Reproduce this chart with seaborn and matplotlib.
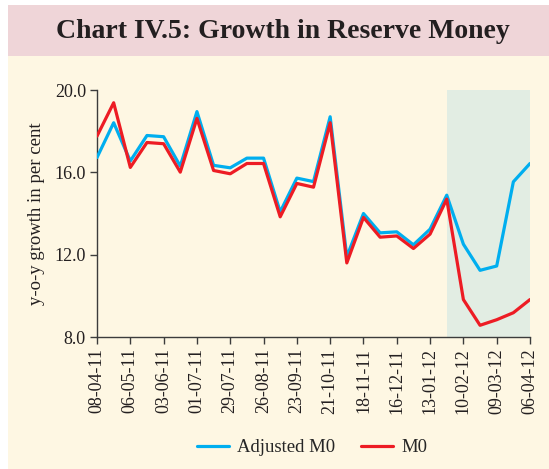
import pandas as pd
import numpy as np
import matplotlib.pyplot as plt
import seaborn as sns
from matplotlib.patches import Rectangle

# Fortnightly dates, 08-04-11 to 06-04-12
dates = pd.date_range("2011-04-08", "2012-04-06", freq="14D")
adjusted_m0 = [16.72, 18.41, 16.55, 17.79, 17.73, 16.30, 18.95, 16.34, 16.22, 16.69,
               16.69, 14.08, 15.72, 15.55, 18.70, 11.90, 14.00, 13.06, 13.11, 12.48,
               13.24, 14.89, 12.51, 11.24, 11.45, 15.54, 16.43]
m0 = [17.76, 19.38, 16.24, 17.45, 17.39, 16.01, 18.62, 16.09, 15.93, 16.43,
      16.43, 13.84, 15.46, 15.28, 18.41, 11.60, 13.81, 12.85, 12.91, 12.30,
      13.00, 14.70, 9.82, 8.57, 8.84, 9.18, 9.82]

df = pd.DataFrame({"date": dates, "Adjusted M0": adjusted_m0, "M0": m0})
df["pos"] = range(len(df))
long = df.melt(id_vars=["date", "pos"], value_vars=["Adjusted M0", "M0"],
               var_name="series", value_name="growth")

sns.set_style("ticks")
plt.rcParams["font.family"] = ["Liberation Serif", "DejaVu Serif"]

fig = plt.figure(figsize=(5.49, 4.69), dpi=100, facecolor="white")
# background panels
fig.patches.append(Rectangle((8 / 549, 0), 1, 413 / 469, transform=fig.transFigure,
                             facecolor="#FEF7E3", edgecolor="none", zorder=-2))
fig.patches.append(Rectangle((8 / 549, 413 / 469), 1, 51 / 469, transform=fig.transFigure,
                             facecolor="#EFD5D8", edgecolor="none", zorder=-2))
fig.text(0.516, 0.932, "Chart IV.5: Growth in Reserve Money", ha="center", va="center",
         fontsize=20, fontweight="bold", color="#231F20")

ax = fig.add_axes([0.1767, 0.2814, 0.9654 - 0.1767, 0.8081 - 0.2814])
ax.set_facecolor("none")

# shaded period
ax.axvspan(21, 26, color="#E2EDE3", zorder=0, lw=0)

sns.lineplot(data=long, x="pos", y="growth", hue="series",
             palette={"Adjusted M0": "#00AEEF", "M0": "#ED1C24"},
             linewidth=2.3, ax=ax, zorder=3)

ax.set_xlim(0, 26)
ax.set_ylim(8, 20)
ax.set_yticks([8, 12, 16, 20])
ax.set_yticklabels(["8.0", "12.0", "16.0", "20.0"], fontsize=13, color="#231F20")
ticks = list(range(0, 27, 2))
ax.set_xticks(ticks)
ax.set_xticklabels([df["date"][i].strftime("%d-%m-%y") for i in ticks],
                   rotation=90, fontsize=13, color="#231F20")
ax.set_xlabel("")
ax.set_ylabel("y-o-y growth in per cent", fontsize=13.5, color="#231F20", labelpad=7)
sns.despine(ax=ax)
for s in ["left", "bottom"]:
    ax.spines[s].set_color("#3C3C3C")
    ax.spines[s].set_linewidth(1.0)
ax.tick_params(colors="#3C3C3C", length=5, width=1.0, labelcolor="#231F20", pad=3)

ax.legend(title=None, loc="center", bbox_to_anchor=(0.497, -0.448), ncol=2,
          frameon=False, fontsize=13.5, handlelength=1.7, columnspacing=1.35,
          handletextpad=0.45)

plt.savefig("out.png", dpi=100, facecolor=fig.get_facecolor())
